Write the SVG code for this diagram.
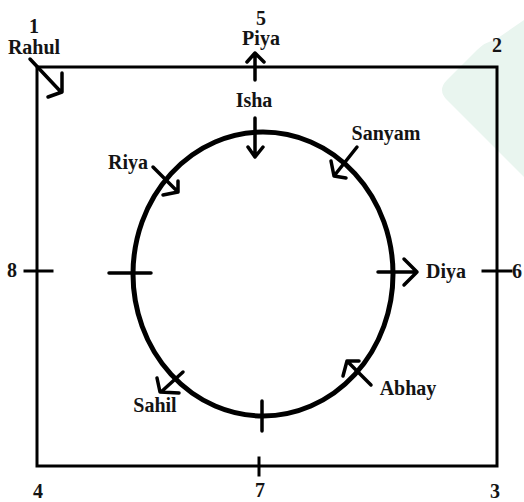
<svg xmlns="http://www.w3.org/2000/svg" width="524" height="502" viewBox="0 0 524 502">
<style>
.lbl{font-family:"Liberation Serif","Times New Roman",serif;font-weight:bold;font-size:20px;fill:#141414;text-anchor:middle}
.ln{stroke:#000;stroke-width:3;fill:none;stroke-linecap:square}
.ar{stroke:#000;stroke-width:3.5;fill:none;stroke-linecap:round;stroke-linejoin:round}
</style>
<rect width="524" height="502" fill="#fff"/>
<path d="M447,80 Q437,90 447,100 L524,177 L524,20 L495,40 Q485,42 477,50 Z" fill="#e9f5ef"/>
<g id="frame">
<rect x="37" y="67" width="460" height="399" class="ln"/>
<ellipse cx="263" cy="274" rx="130" ry="142" fill="none" stroke="#000" stroke-width="5"/>
</g>
<g id="connectors">
<line x1="25" y1="271" x2="52" y2="271" class="ln"/>
<line x1="483" y1="271" x2="511" y2="271" class="ln"/>
<line x1="259" y1="458" x2="259" y2="475" class="ln"/>
<line x1="109" y1="273" x2="151" y2="273" class="ar" stroke-width="4"/>
<line x1="262" y1="401" x2="262" y2="431" class="ar" stroke-width="4"/>
</g>
<g id="pos1"><text x="34" y="33" class="lbl">1</text><text x="34" y="54" class="lbl">Rahul</text>
<path d="M30,59 L61,92 M62,73 L62,92 L48,97" class="ar"/></g>
<g id="pos2"><text x="497" y="52" class="lbl">2</text></g>
<g id="pos3"><text x="495" y="498" class="lbl">3</text></g>
<g id="pos4"><text x="38" y="498" class="lbl">4</text></g>
<g id="pos5"><text x="261" y="25" class="lbl">5</text><text x="261" y="45" class="lbl">Piya</text>
<path d="M255,80 L255,53 M247,62 L255,53 L264,62" class="ar"/></g>
<g id="pos6"><text x="517" y="278" class="lbl">6</text></g>
<g id="pos7"><text x="260" y="497" class="lbl">7</text></g>
<g id="pos8"><text x="12" y="277" class="lbl">8</text></g>
<g id="isha"><text x="254" y="107" class="lbl">Isha</text>
<path d="M255,118 L255,157 M248,147 L255,157 L263,147" class="ar"/></g>
<g id="sanyam"><text x="386" y="140" class="lbl">Sanyam</text>
<path d="M357,147 L334,176 M331,161 L334,176 L346,178" class="ar"/></g>
<g id="riya"><text x="128" y="169" class="lbl">Riya</text>
<path d="M153,167 L178,192 M178,181 L178,192 L163,195" class="ar"/></g>
<g id="diya"><text x="446" y="278" class="lbl">Diya</text>
<path d="M378,272 L417,272 M404,259 L417,272 L404,285" class="ar"/></g>
<g id="abhay"><text x="408" y="395" class="lbl">Abhay</text>
<path d="M371,385 L347,361 M343,376 L347,361 L359,361" class="ar"/></g>
<g id="sahil"><text x="155" y="412" class="lbl">Sahil</text>
<path d="M183,372 L161,392 M157,378 L160,392 L179,393" class="ar"/></g>
</svg>
